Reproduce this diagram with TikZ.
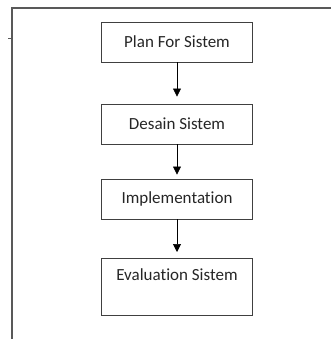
\documentclass[tikz,border=0pt]{standalone}
\usepackage{fontspec}
\setmainfont[RawFeature=-liga]{Carlito}
\usepackage{tikz}
\usetikzlibrary{shapes,arrows.meta,positioning}

\begin{document}
\begin{tikzpicture}[x=1pt, y=-1pt]
			\tikzstyle{Frame}	= [line width=1.3pt, black!65]
			\tikzstyle{Step}	= [rectangle, draw=black!75, line width=0.9pt, minimum width=151pt, minimum height=40pt, inner sep=0pt, font=\fontsize{17}{20}\selectfont, text=black!85]
			\tikzstyle{Flow}	= [line width=0.7pt, black, -{Triangle[width=8pt, length=8pt]}]

			\useasboundingbox (0,0) rectangle (331,339);

			\coordinate (f0) at (12,339);
			\coordinate (f1) at (12,8);
			\coordinate (f2) at (331,8);
			\coordinate (t0) at (8,39);
			\coordinate (t1) at (12,39);

			\node (s1) at (177,42) [Step] {Plan For Sistem};
			\node (s2) at (177,124) [Step] {Desain Sistem};
			\node (s3) at (177,199) [Step] {Implementation};
			\node (s4) at (177,258) [Step][anchor=north, text height=22pt, text depth=35pt, minimum height=57pt] {Evaluation Sistem};

			\draw (f0) -- (f1) -- (f2) [Frame];
			\draw (t0) -- (t1) [Frame, line width=1pt];

			\draw (s1) to (s2) [Flow, shorten >=7pt];
			\draw (s2) to (s3) [Flow, shorten >=4pt];
			\draw (s3) to (s4) [Flow, shorten >=6pt];
		\end{tikzpicture}
\end{document}
